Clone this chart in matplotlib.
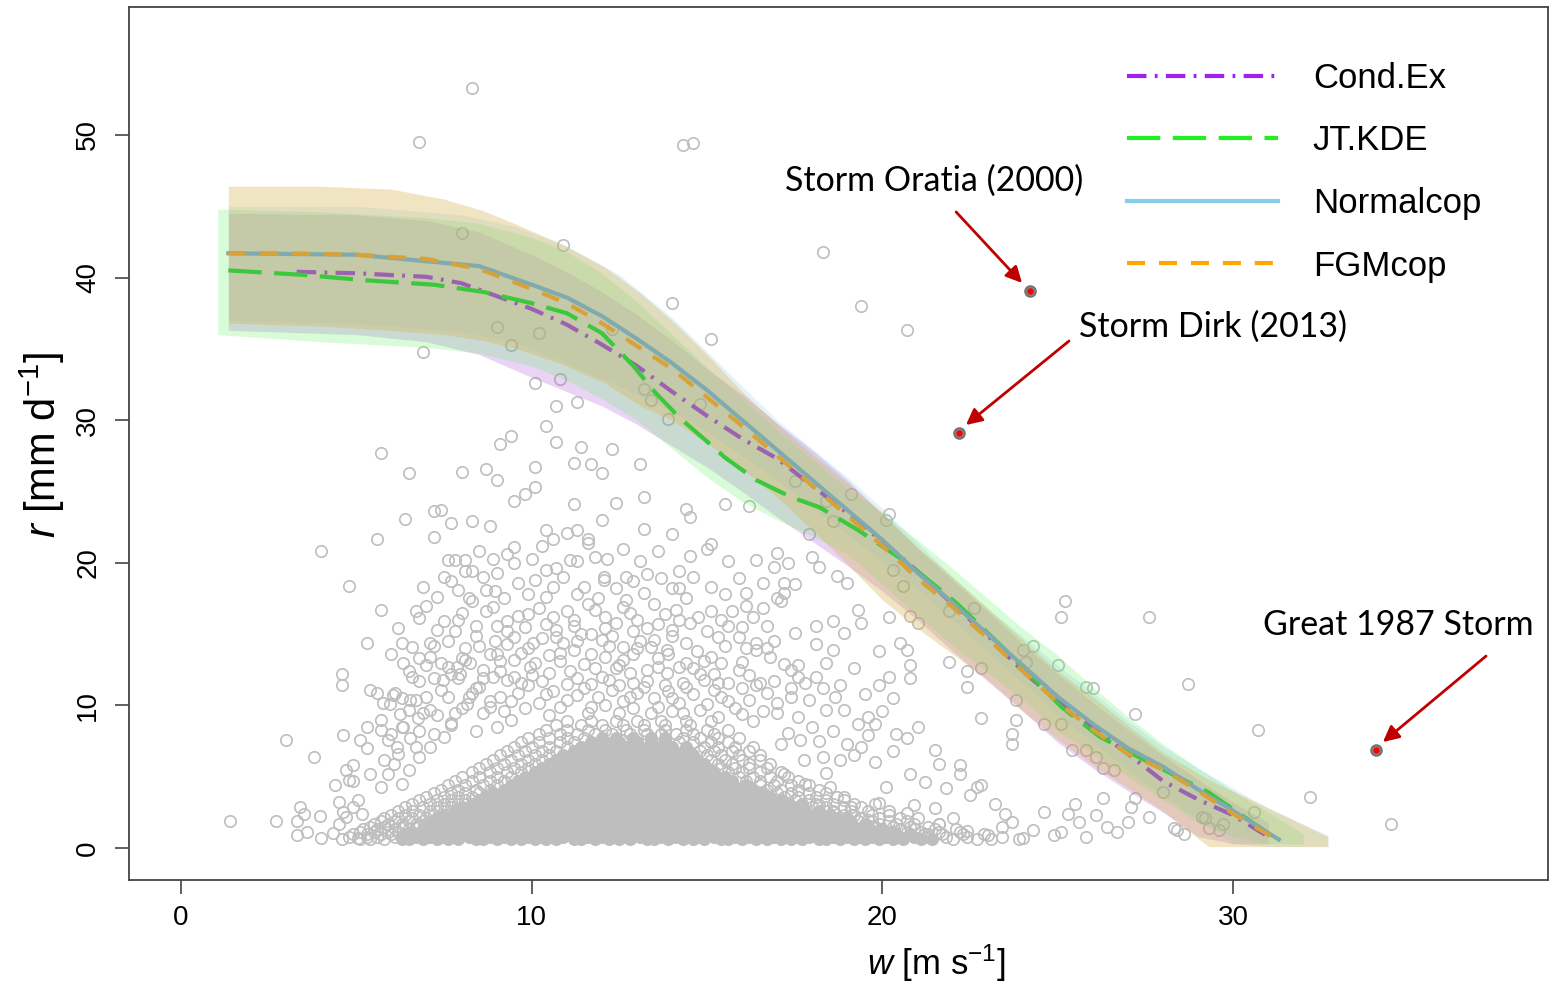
import matplotlib.pyplot as plt
from matplotlib.lines import Line2D
import numpy as np

plt.rcParams['font.family'] = 'Liberation Sans'
plt.rcParams['mathtext.fontset'] = 'custom'
plt.rcParams['mathtext.rm'] = 'Liberation Sans'
plt.rcParams['mathtext.it'] = 'Liberation Sans:italic'
plt.rcParams['lines.scale_dashes'] = False

obs_top = [(8.3, 53.3), (6.8, 49.5), (14.3, 49.3), (14.6, 49.4), (8.0, 43.1), (10.9, 42.3), (18.3, 41.8),
           (14.0, 38.2), (19.4, 38.0), (20.7, 36.3), (15.1, 35.7), (6.9, 34.8), (9.0, 36.5), (9.4, 35.3),
           (10.2, 36.1), (12.3, 36.4), (10.8, 32.9), (10.1, 32.6), (10.7, 31.0), (11.3, 31.3), (13.2, 32.2),
           (13.4, 31.4), (14.8, 31.1), (13.9, 30.1), (10.4, 29.6), (9.4, 28.9), (9.1, 28.3), (10.7, 28.5),
           (11.4, 28.1), (12.3, 28.0), (13.1, 26.9), (5.7, 27.7), (6.5, 26.3), (8.0, 26.4), (8.7, 26.6),
           (9.0, 25.8), (10.1, 26.7), (11.2, 27.0), (11.7, 26.9), (12.0, 26.3), (17.5, 25.7)]

obs_left = [(1.4, 1.9), (2.7, 1.9), (3.3, 1.9), (3.0, 7.6), (3.3, 0.9), (3.4, 2.9), (3.5, 2.4),
            (4.0, 20.8), (4.8, 18.4), (5.6, 21.7), (6.4, 23.1), (7.2, 21.8), (7.2, 23.6), (7.4, 23.7),
            (7.5, 19.0), (7.7, 18.7), (7.7, 22.8), (7.6, 20.2), (7.8, 20.2), (8.1, 20.2), (8.1, 19.4),
            (8.3, 19.4), (8.3, 22.9), (8.5, 20.8), (8.8, 22.6), (8.9, 20.3), (8.7, 18.1), (8.95, 18.0),
            (9.2, 17.5), (8.2, 17.5),
            (4.7, 5.5), (4.9, 4.7), (4.5, 1.7), (4.7, 2.2), (4.9, 2.9), (5.15, 2.4), (5.06, 0.7), (5.7, 4.3),
            (5.9, 5.2), (6.06, 5.9), (6.2, 6.6), (5.9, 7.6), (6.0, 8.0), (6.3, 8.5), (6.5, 9.7), (6.7, 10.4),
            (6.9, 9.45), (7.2, 8.0), (7.1, 7.1), (6.8, 6.4), (6.5, 5.5), (6.3, 4.5), (6.7, 7.1), (7.5, 7.8),
            (7.7, 8.75), (7.8, 9.45), (8.15, 10.1), (8.3, 10.85), (8.5, 11.3), (8.8, 9.9), (9.1, 10.6),
            (9.3, 11.8), (7.96, 12.2), (7.6, 12.7), (7.2, 11.9), (6.8, 11.7), (6.5, 12.4), (6.1, 10.85),
            (6.3, 10.5)]

obs_upper_mid = [(10.1, 25.3), (9.8, 24.8), (9.5, 24.3), (11.2, 24.1), (12.4, 24.2), (10.4, 22.3),
                 (10.6, 21.7), (11.0, 22.1), (11.3, 22.3), (11.6, 21.7), (11.6, 21.4), (10.0, 20.3),
                 (9.5, 21.1), (9.5, 20.0), (10.4, 19.5), (10.7, 19.6), (11.1, 20.2), (11.3, 20.1),
                 (11.8, 20.4), (12.15, 20.3), (10.1, 18.8), (10.6, 18.3), (11.5, 18.3), (12.05, 19.0),
                 (12.05, 18.8), (12.7, 19.0), (12.9, 18.7)]

obs_band_zone = [(15.5, 24.1), (16.2, 24.0), (14.4, 23.8), (14.5, 23.2), (13.2, 24.6), (13.2, 22.35),
                 (13.1, 20.1), (13.2, 17.9), (17.9, 22.0), (19.1, 24.8), (18.4, 24.3), (18.6, 22.9),
                 (20.2, 23.4), (20.1, 23.0), (22.6, 16.8), (24.3, 14.2), (24.0, 13.9), (20.3, 19.5),
                 (20.6, 18.4), (20.8, 16.3), (21.0, 15.8), (21.9, 16.6), (20.2, 16.2), (19.4, 15.8),
                 (19.3, 16.7), (19.0, 18.6), (18.7, 19.1), (18.0, 20.4), (18.2, 19.7), (17.5, 18.5),
                 (17.2, 18.6), (17.0, 20.7), (17.3, 20.0), (16.9, 19.7), (16.4, 20.2), (15.9, 18.96),
                 (15.6, 20.1), (15.1, 21.3), (14.5, 20.5), (14.2, 19.4), (14.0, 18.2), (15.1, 18.3),
                 (16.1, 17.9), (17.0, 17.5), (17.2, 17.9), (18.1, 15.6), (18.6, 15.95), (18.9, 15.1),
                 (18.1, 14.3), (18.6, 13.9), (19.9, 13.8), (20.5, 14.4), (20.7, 13.9), (14.2, 18.2),
                 (14.4, 17.5), (15.0, 21.0)]

obs_lower_mid = [(5.7, 16.7), (7.0, 17.0), (6.8, 16.1), (8.0, 16.5), (8.3, 17.3), (8.7, 16.6), (9.3, 15.9),
                 (9.6, 16.3), (9.9, 16.4), (10.4, 15.7), (11.0, 16.6), (11.2, 16.0), (11.8, 16.7),
                 (11.7, 15.0), (12.4, 15.8), (12.8, 16.5), (12.9, 15.2), (13.3, 15.4), (13.6, 15.7),
                 (14.1, 16.7), (14.2, 16.0), (14.75, 16.2), (15.1, 16.6), (15.7, 16.6), (16.1, 17.0),
                 (16.6, 16.8), (17.1, 17.3), (16.7, 15.6), (15.3, 14.8), (15.9, 14.8), (16.4, 14.4),
                 (17.5, 15.1), (5.3, 14.4), (6.3, 14.35), (7.1, 14.35), (7.8, 15.2), (8.4, 14.9),
                 (8.95, 14.5), (9.5, 14.8), (10.05, 14.35), (10.7, 14.8), (11.4, 15.0), (12.0, 14.6),
                 (12.6, 14.1), (13.4, 14.1), (13.85, 13.9), (14.7, 13.8), (15.4, 12.95), (16.0, 13.07),
                 (16.8, 13.4), (17.4, 12.5), (4.6, 12.2), (4.6, 11.4), (5.4, 11.1), (5.6, 10.9),
                 (5.96, 10.1), (6.25, 9.4), (6.34, 12.95), (6.8, 13.3), (7.2, 14.2), (7.48, 11.8),
                 (7.86, 12.7), (8.24, 12.95), (8.6, 12.5), (9.1, 13.1), (9.5, 12.0), (9.95, 12.7),
                 (10.3, 11.7), (10.8, 13.1), (11.3, 11.9), (11.8, 12.6), (12.2, 11.8), (12.8, 12.3),
                 (13.3, 11.7), (13.85, 12.25), (14.3, 11.55), (14.9, 11.8), (15.6, 11.55), (16.2, 12.1),
                 (16.9, 11.7), (17.6, 12.0), (3.8, 6.4), (4.63, 7.9), (5.1, 7.57), (5.3, 8.5), (5.7, 8.97),
                 (5.7, 8.3), (5.3, 7.0), (4.9, 5.8), (4.4, 4.4), (4.5, 3.25), (4.63, 2.55), (4.0, 0.7),
                 (4.34, 1.03), (3.6, 1.1), (3.96, 2.24), (5.06, 3.36), (4.8, 4.8), (5.39, 5.2), (5.8, 6.2),
                 (6.15, 7.1), (6.53, 7.7), (6.34, 8.5), (6.77, 9.1), (7.1, 9.7), (5.77, 10.14), (6.05, 10.7),
                 (6.53, 10.4), (7.6, 10.6), (8.0, 9.8), (8.4, 11.2), (8.8, 10.3), (9.2, 9.6), (9.6, 10.9),
                 (9.9, 11.4), (10.2, 10.2), (10.6, 11.0), (11.0, 10.4), (11.5, 11.2), (11.9, 10.6),
                 (12.3, 11.1), (12.6, 10.3), (13.0, 10.9), (13.5, 10.5), (13.9, 11.0), (14.2, 10.2),
                 (14.6, 10.8), (15.0, 10.1), (15.4, 10.6), (15.8, 9.8), (16.2, 10.4), (16.6, 9.6),
                 (7.9, 11.9), (8.9, 12.0), (10.0, 12.1), (11.1, 12.4), (12.5, 12.8), (13.6, 12.7),
                 (14.6, 12.6), (15.2, 12.2), (16.0, 11.2), (9.4, 9.0), (10.5, 9.3), (11.7, 9.9),
                 (12.9, 9.8), (14.0, 9.6), (15.3, 9.2), (16.3, 8.9), (17.0, 9.5), (17.4, 10.6),
                 (16.7, 10.9), (7.3, 9.3), (6.8, 8.2), (7.7, 8.6), (8.4, 8.2), (9.0, 8.5), (8.8, 13.6),
                 (9.7, 13.7), (10.5, 13.5), (11.2, 13.9), (12.1, 13.4), (12.9, 13.6), (13.6, 13.3),
                 (14.4, 13.0), (15.1, 13.4), (16.4, 13.9), (7.4, 13.0), (8.1, 14.0), (9.3, 14.3),
                 (10.9, 14.4), (12.3, 14.9), (13.1, 14.5), (14.0, 14.9), (15.6, 15.6), (16.9, 14.5),
                 (10.6, 16.2), (12.1, 16.2), (9.0, 15.6), (7.5, 15.9), (13.8, 16.4)]

obs_extra_mid = [(7.0, 10.6), (7.4, 11.1), (8.2, 10.6), (8.6, 9.5), (9.4, 10.3), (9.8, 9.8), (10.4, 10.8),
                 (10.8, 9.9), (11.3, 10.7), (11.7, 11.5), (12.1, 10.0), (12.5, 11.4), (12.8, 10.6),
                 (13.2, 11.3), (13.6, 9.9), (14.0, 10.5), (14.4, 11.3), (14.8, 9.7), (15.2, 11.1),
                 (15.6, 10.3), (16.0, 9.4), (16.4, 11.4), (17.0, 10.2), (17.8, 11.6),
                 (6.6, 12.0), (7.0, 12.8), (7.7, 12.2), (8.1, 13.2), (8.6, 11.9), (9.1, 12.4), (9.7, 11.6),
                 (10.1, 13.0), (10.5, 12.3), (11.0, 11.5), (11.5, 12.9), (12.0, 12.0), (12.4, 12.6),
                 (12.9, 11.6), (13.3, 12.5), (13.8, 11.4), (14.2, 12.7), (14.8, 12.2), (15.3, 11.6),
                 (15.9, 12.5), (16.5, 11.6), (17.2, 12.9),
                 (6.0, 13.6), (6.6, 14.1), (7.1, 13.4), (7.6, 14.5), (8.0, 13.3), (8.5, 14.2), (9.0, 13.6),
                 (9.5, 13.2), (9.9, 14.0), (10.3, 14.7), (10.8, 13.7), (11.3, 14.5), (11.7, 13.6),
                 (12.2, 14.2), (12.6, 13.2), (13.0, 14.0), (13.5, 14.6), (13.9, 13.6), (14.4, 14.4),
                 (14.9, 13.1), (15.5, 14.2), (16.1, 14.0), (16.7, 14.0),
                 (6.2, 15.4), (6.7, 16.6), (7.3, 15.3), (7.9, 16.0), (8.4, 15.6), (8.9, 16.9), (9.3, 15.2),
                 (9.8, 15.5), (10.2, 16.8), (10.7, 15.3), (11.2, 15.6), (11.6, 17.1), (12.1, 15.4),
                 (12.6, 16.9), (13.0, 16.0), (13.5, 17.1), (14.0, 15.3), (14.5, 15.8), (15.0, 15.2),
                 (15.4, 16.0), (16.0, 15.5), (16.3, 16.2),
                 (6.9, 18.3), (7.3, 17.6), (7.9, 18.1), (8.6, 19.0), (9.0, 19.3), (9.6, 18.6), (9.9, 17.8),
                 (10.4, 17.6), (10.9, 19.0), (11.3, 17.8), (11.9, 17.5), (12.4, 18.2), (12.7, 17.4),
                 (13.3, 19.2), (13.7, 18.9), (14.6, 19.0), (15.5, 17.8), (16.6, 18.6), (9.3, 20.6),
                 (10.3, 21.2), (12.6, 21.0), (13.6, 20.8), (14.0, 22.0), (12.0, 23.0),
                 (17.4, 11.2), (18.1, 12.0), (18.8, 11.4), (19.5, 10.8), (19.9, 11.4), (20.3, 10.5),
                 (20.0, 9.6), (19.6, 9.2), (18.2, 7.5), (18.6, 8.2), (19.2, 6.5), (19.8, 6.0), (20.3, 6.8),
                 (20.8, 5.2), (21.2, 4.6), (20.9, 3.0), (21.5, 2.8), (22.0, 2.1), (22.4, 1.2), (23.0, 0.9),
                 (23.5, 2.4), (24.0, 0.7), (24.9, 0.9), (25.8, 0.8), (26.7, 1.1), (17.8, 4.5), (18.2, 3.0),
                 (18.6, 2.5)]

obs_right = [(18.4, 12.95), (19.2, 12.6), (20.2, 12.0), (20.8, 12.8), (20.8, 11.9), (21.9, 13.07),
             (22.4, 12.4), (22.4, 11.3), (22.8, 12.6), (25.0, 12.8), (28.7, 11.5), (27.2, 9.4),
             (26.0, 11.2), (25.8, 11.3), (24.1, 13.07), (23.8, 10.4), (22.8, 9.1), (23.8, 9.0),
             (23.7, 8.0), (23.7, 7.3), (24.6, 8.7), (25.1, 8.7), (25.4, 6.87), (25.8, 6.87), (26.1, 6.4),
             (26.3, 5.6), (26.6, 5.5), (25.5, 3.1), (26.3, 3.5), (27.1, 2.9), (27.2, 3.5), (27.6, 2.2),
             (28.0, 3.95), (28.4, 1.26), (28.6, 1.0), (29.2, 2.1), (29.3, 1.4), (29.7, 1.7), (30.6, 2.55),
             (30.7, 8.27), (27.0, 1.85), (26.4, 1.5), (26.1, 2.3), (25.6, 1.85), (25.1, 1.15), (25.3, 2.4),
             (24.6, 2.55), (24.3, 1.26), (23.7, 1.85), (23.4, 1.5), (23.2, 3.1), (22.8, 4.4), (22.5, 3.7),
             (22.2, 5.8), (21.8, 4.2), (21.6, 1.7), (21.2, 1.0), (20.7, 2.43), (20.5, 1.26), (20.1, 4.3),
             (19.9, 3.13), (19.6, 1.97), (19.46, 1.0), (19.1, 2.9), (18.9, 3.6), (18.5, 4.3), (18.4, 5.24),
             (18.3, 6.4), (18.8, 6.2), (19.0, 7.3), (19.4, 7.1), (19.6, 7.9), (19.8, 8.7), (20.4, 8.0),
             (20.7, 7.7), (21.0, 8.5), (21.5, 6.87), (21.6, 5.9), (22.2, 5.2), (22.7, 4.3), (19.3, 8.7),
             (18.9, 9.7), (18.4, 9.7), (18.65, 10.6), (18.3, 11.2), (17.9, 10.4), (17.6, 9.2), (17.3, 8.04),
             (17.1, 7.3), (17.65, 7.57), (18.0, 8.5), (17.75, 6.2), (17.2, 5.2), (17.6, 12.8),
             (25.1, 16.2), (25.2, 17.3), (27.6, 16.2), (32.2, 3.6), (34.5, 1.7), (28.3, 1.4), (29.1, 2.2),
             (29.6, 1.26)]

# DENSE CORE OF THE CLOUD: ONE ROW OF w VALUES PER r LEVEL
core_r = [0.6, 0.95, 1.3, 1.7, 2.1, 2.6, 3.1, 3.6, 4.1, 4.7, 5.3, 5.9, 6.5, 7.1, 7.7, 8.3, 8.9, 9.5]
core_w = [
    [4.6, 5.1, 5.4, 5.8, 6.3, 6.5, 6.9, 7.3, 7.6, 7.9, 8.4, 8.6, 9.0, 9.4, 9.7, 10.1, 10.4, 10.7, 11.2, 11.4,
     11.8, 12.2, 12.5, 12.8, 13.3, 13.5, 13.9, 14.3, 14.6, 14.9, 15.4, 15.6, 16.0, 16.4, 16.7, 17.1, 17.4,
     17.7, 18.2, 18.4, 18.8, 19.2, 19.5, 19.9, 20.3, 20.6, 21.1, 21.4, 22.0, 22.7, 23.1, 23.9],
    [4.9, 5.3, 5.7, 6.0, 6.4, 6.8, 7.1, 7.4, 7.8, 8.1, 8.5, 8.8, 9.2, 9.5, 9.9, 10.2, 10.6, 10.9, 11.3, 11.6,
     12.0, 12.3, 12.7, 13.0, 13.4, 13.7, 14.1, 14.4, 14.8, 15.1, 15.5, 15.8, 16.2, 16.5, 16.9, 17.2, 17.6,
     17.9, 18.3, 18.6, 19.0, 19.3, 19.7, 20.1, 20.4, 20.8, 21.3, 21.7, 22.3, 22.9],
    [5.2, 5.6, 6.1, 6.5, 6.9, 7.2, 7.6, 7.9, 8.3, 8.7, 9.0, 9.4, 9.7, 10.1, 10.5, 10.8, 11.2, 11.5, 11.9, 12.2,
     12.6, 12.9, 13.3, 13.6, 14.0, 14.3, 14.7, 15.0, 15.4, 15.7, 16.1, 16.4, 16.8, 17.1, 17.5, 17.8, 18.2,
     18.5, 18.9, 19.3, 19.6, 20.0, 20.5, 20.9, 21.5, 22.1],
    [5.5, 5.9, 6.3, 6.7, 7.0, 7.4, 7.8, 8.1, 8.5, 8.8, 9.2, 9.6, 9.9, 10.3, 10.6, 11.0, 11.4, 11.7, 12.1, 12.4,
     12.8, 13.1, 13.5, 13.8, 14.2, 14.5, 14.9, 15.2, 15.6, 15.9, 16.3, 16.6, 17.0, 17.3, 17.7, 18.0, 18.4,
     18.8, 19.1, 19.5, 19.9, 20.4, 20.9, 21.6],
    [5.8, 6.2, 6.6, 7.0, 7.3, 7.7, 8.0, 8.4, 8.7, 9.1, 9.5, 9.8, 10.2, 10.5, 10.9, 11.2, 11.6, 11.9, 12.3, 12.6,
     13.0, 13.4, 13.7, 14.1, 14.4, 14.8, 15.1, 15.5, 15.8, 16.2, 16.5, 16.9, 17.2, 17.6, 17.9, 18.3, 18.7,
     19.0, 19.4, 19.9, 20.5, 21.0],
    [6.2, 6.6, 7.1, 7.5, 7.8, 8.2, 8.6, 8.9, 9.3, 9.6, 10.0, 10.3, 10.7, 11.0, 11.4, 11.8, 12.1, 12.5, 12.8,
     13.2, 13.5, 13.9, 14.2, 14.6, 14.9, 15.3, 15.7, 16.0, 16.4, 16.7, 17.1, 17.4, 17.8, 18.2, 18.6, 19.1,
     19.6, 20.2],
    [6.6, 7.1, 7.5, 7.9, 8.3, 8.7, 9.0, 9.4, 9.7, 10.1, 10.5, 10.8, 11.2, 11.5, 11.9, 12.2, 12.6, 12.9, 13.3,
     13.7, 14.0, 14.4, 14.7, 15.1, 15.4, 15.8, 16.1, 16.5, 16.9, 17.3, 17.7, 18.1, 18.6, 19.2, 19.8],
    [7.0, 7.5, 7.9, 8.3, 8.7, 9.1, 9.5, 9.8, 10.2, 10.6, 10.9, 11.3, 11.7, 12.0, 12.4, 12.7, 13.1, 13.5, 13.8,
     14.2, 14.5, 14.9, 15.3, 15.6, 16.0, 16.4, 16.8, 17.2, 17.6, 18.1, 18.7],
    [7.4, 7.9, 8.4, 8.8, 9.2, 9.6, 10.0, 10.4, 10.7, 11.1, 11.5, 11.8, 12.2, 12.6, 12.9, 13.3, 13.7, 14.0,
     14.4, 14.8, 15.1, 15.5, 15.9, 16.3, 16.7, 17.1, 17.6, 18.2],
    [7.8, 8.3, 8.8, 9.2, 9.6, 10.0, 10.4, 10.8, 11.2, 11.5, 11.9, 12.3, 12.7, 13.0, 13.4, 13.8, 14.2, 14.5,
     14.9, 15.3, 15.7, 16.1, 16.5, 17.0, 17.6],
    [8.3, 8.8, 9.3, 9.7, 10.1, 10.5, 10.9, 11.3, 11.7, 12.1, 12.5, 12.8, 13.2, 13.6, 14.0, 14.4, 14.8, 15.2,
     15.6, 16.0, 16.5, 17.1],
    [8.7, 9.2, 9.7, 10.1, 10.5, 10.9, 11.3, 11.7, 12.1, 12.5, 12.9, 13.3, 13.7, 14.1, 14.5, 14.9, 15.3, 15.7,
     16.2, 16.8],
    [9.1, 9.6, 10.1, 10.5, 10.9, 11.4, 11.8, 12.2, 12.6, 13.0, 13.4, 13.8, 14.2, 14.6, 15.0, 15.4, 15.9, 16.5],
    [9.5, 10.0, 10.5, 11.0, 11.4, 11.9, 12.3, 12.7, 13.1, 13.6, 14.0, 14.4, 14.9, 15.3, 15.8, 16.3],
    [9.9, 10.5, 11.0, 11.5, 12.0, 12.4, 12.9, 13.4, 13.8, 14.3, 14.8, 15.3, 15.9],
    [10.4, 11.0, 11.6, 12.1, 12.7, 13.2, 13.8, 14.4, 15.0, 15.6],
    [11.0, 11.7, 12.4, 13.0, 13.7, 14.4, 15.1],
    [11.6, 12.5, 13.4, 14.3],
]
# SECOND, STAGGERED SET OF CORE ROWS
core_r_b = [0.8, 1.1, 1.5, 1.9, 2.35, 2.85, 3.35, 3.85, 4.4, 5.0, 5.6, 6.2, 6.8, 7.4, 8.0, 8.6]
core_w_b = [
    [4.8, 5.3, 5.6, 6.1, 6.4, 6.7, 7.1, 7.5, 7.8, 8.2, 8.5, 8.8, 9.2, 9.6, 9.9, 10.3, 10.6, 10.9, 11.3, 11.6,
     12.0, 12.4, 12.7, 13.1, 13.4, 13.7, 14.1, 14.5, 14.8, 15.2, 15.5, 15.8, 16.2, 16.6, 16.9, 17.3, 17.6,
     17.9, 18.3, 18.6, 19.0, 19.4, 19.7, 20.1, 20.5, 20.9, 21.3, 21.8, 22.4, 23.4],
    [5.1, 5.5, 5.9, 6.2, 6.6, 7.0, 7.3, 7.6, 8.0, 8.3, 8.7, 9.0, 9.4, 9.7, 10.1, 10.4, 10.8, 11.1, 11.5, 11.8,
     12.2, 12.5, 12.9, 13.2, 13.6, 13.9, 14.3, 14.6, 15.0, 15.3, 15.7, 16.0, 16.4, 16.7, 17.1, 17.4, 17.8,
     18.1, 18.5, 18.8, 19.2, 19.5, 19.9, 20.3, 20.7, 21.1, 21.6, 22.2],
    [5.4, 5.8, 6.3, 6.7, 7.1, 7.4, 7.8, 8.1, 8.5, 8.9, 9.2, 9.6, 9.9, 10.3, 10.7, 11.0, 11.4, 11.7, 12.1, 12.4,
     12.8, 13.1, 13.5, 13.8, 14.2, 14.5, 14.9, 15.2, 15.6, 15.9, 16.3, 16.6, 17.0, 17.3, 17.7, 18.0, 18.4,
     18.7, 19.1, 19.5, 19.8, 20.3, 20.8, 21.3],
    [5.7, 6.1, 6.5, 6.9, 7.2, 7.6, 8.0, 8.3, 8.7, 9.0, 9.4, 9.8, 10.1, 10.5, 10.8, 11.2, 11.6, 11.9, 12.3, 12.6,
     13.0, 13.3, 13.7, 14.0, 14.4, 14.7, 15.1, 15.4, 15.8, 16.1, 16.5, 16.8, 17.2, 17.5, 17.9, 18.2, 18.6,
     19.0, 19.3, 19.7, 20.2, 20.7],
    [6.0, 6.4, 6.8, 7.2, 7.5, 7.9, 8.2, 8.6, 8.9, 9.3, 9.7, 10.0, 10.4, 10.7, 11.1, 11.4, 11.8, 12.1, 12.5, 12.8,
     13.2, 13.6, 13.9, 14.3, 14.6, 15.0, 15.3, 15.7, 16.0, 16.4, 16.7, 17.1, 17.4, 17.8, 18.1, 18.5, 18.9,
     19.2, 19.7, 20.2],
    [6.4, 6.9, 7.3, 7.7, 8.0, 8.4, 8.8, 9.1, 9.5, 9.8, 10.2, 10.5, 10.9, 11.2, 11.6, 12.0, 12.3, 12.7, 13.0,
     13.4, 13.7, 14.1, 14.4, 14.8, 15.1, 15.5, 15.9, 16.2, 16.6, 16.9, 17.3, 17.6, 18.0, 18.4, 18.9, 19.4],
    [6.8, 7.3, 7.7, 8.1, 8.5, 8.9, 9.2, 9.6, 9.9, 10.3, 10.7, 11.0, 11.4, 11.7, 12.1, 12.4, 12.8, 13.1, 13.5,
     13.9, 14.2, 14.6, 14.9, 15.3, 15.6, 16.0, 16.3, 16.7, 17.1, 17.5, 17.9, 18.4, 18.9],
    [7.2, 7.7, 8.1, 8.5, 8.9, 9.3, 9.7, 10.0, 10.4, 10.8, 11.1, 11.5, 11.9, 12.2, 12.6, 12.9, 13.3, 13.7, 14.0,
     14.4, 14.7, 15.1, 15.5, 15.8, 16.2, 16.6, 17.0, 17.4, 17.9, 18.4],
    [7.6, 8.1, 8.6, 9.0, 9.4, 9.8, 10.2, 10.6, 10.9, 11.3, 11.7, 12.0, 12.4, 12.8, 13.1, 13.5, 13.9, 14.2,
     14.6, 15.0, 15.3, 15.7, 16.1, 16.5, 16.9, 17.4, 17.9],
    [8.0, 8.5, 9.0, 9.4, 9.8, 10.2, 10.6, 11.0, 11.4, 11.7, 12.1, 12.5, 12.9, 13.2, 13.6, 14.0, 14.4, 14.7,
     15.1, 15.5, 15.9, 16.3, 16.8, 17.3],
    [8.5, 9.0, 9.5, 9.9, 10.3, 10.7, 11.1, 11.5, 11.9, 12.3, 12.7, 13.0, 13.4, 13.8, 14.2, 14.6, 15.0, 15.4,
     15.8, 16.2, 16.7],
    [8.9, 9.4, 9.9, 10.3, 10.7, 11.1, 11.5, 11.9, 12.3, 12.7, 13.1, 13.5, 13.9, 14.3, 14.7, 15.1, 15.5, 16.0,
     16.5],
    [9.3, 9.8, 10.3, 10.7, 11.2, 11.6, 12.0, 12.4, 12.8, 13.2, 13.6, 14.0, 14.4, 14.8, 15.2, 15.7, 16.2],
    [9.7, 10.2, 10.8, 11.2, 11.7, 12.1, 12.5, 13.0, 13.4, 13.8, 14.2, 14.6, 15.1, 15.6],
    [10.2, 10.8, 11.3, 11.8, 12.3, 12.8, 13.3, 13.7, 14.1, 14.6, 15.2],
    [10.7, 11.4, 12.0, 12.6, 13.2, 13.8, 14.5],
]

# STORMS
storm_w = [24.21, 22.18, 34.07]
storm_r = [39.06, 29.1, 6.87]
storm_labels = ['Storm Oratia (2000)', 'Storm Dirk (2013)', 'Great 1987 Storm']

# MODEL CURVES
ce_w = [3.3, 5, 7, 8, 9, 10, 11, 12, 13, 14, 15, 16, 17, 18, 19, 20, 21, 22, 23, 24, 25, 26, 27, 28, 29, 30, 31.0]
ce_r = [40.4, 40.3, 40.05, 39.6, 38.7, 37.8, 36.7, 35.3, 33.8, 32.0, 30.3, 28.7, 27.3, 25.4, 23.5, 21.5, 19.4,
        17.1, 14.9, 12.4, 10.3, 8.4, 6.6, 4.7, 3.4, 2.3, 0.8]
jt_w = [1.35, 3.4, 5.3, 7.2, 8.6, 10, 11, 12, 12.9, 13.5, 14.2, 15, 15.5, 16.4, 17.4, 18.2, 19.3, 20.7, 22.1,
        23.5, 25.1, 26.2, 27.6, 29.3, 31.25]
jt_r = [40.5, 40.2, 39.8, 39.5, 39.0, 38.2, 37.5, 36.1, 33.8, 32.0, 30.2, 28.5, 27.4, 25.8, 24.6, 23.9, 22.3,
        20.0, 17.2, 13.9, 9.9, 7.8, 6.0, 3.9, 0.6]
nc_w = [1.35, 5, 8.5, 10, 11, 12, 13, 14, 15, 16, 17, 18, 19, 20, 21, 22, 23, 24, 25, 26, 27, 28, 29, 30, 31.3]
nc_r = [41.7, 41.6, 40.8, 39.5, 38.6, 37.3, 35.7, 34.0, 32.1, 30.0, 27.9, 25.8, 23.7, 21.6, 19.3, 17.2, 15.0,
        12.8, 10.6, 8.7, 7.0, 5.7, 4.1, 2.6, 0.6]
fg_w = [1.35, 3, 5, 7, 8.5, 10, 11, 12, 13, 14, 15, 16, 17, 18, 19, 20, 21, 22, 23, 24, 25, 26, 27, 28, 29, 30, 31.3]
fg_r = [41.7, 41.7, 41.6, 41.3, 40.6, 39.2, 38.2, 36.8, 35.2, 33.6, 31.6, 29.6, 27.5, 25.4, 23.3, 21.2, 18.9,
        16.9, 14.7, 12.4, 10.2, 8.3, 6.6, 5.5, 4.0, 2.4, 0.5]

# UNCERTAINTY BANDS
ce_band_w = [1.35, 5, 7, 8.5, 10, 11, 12, 13, 14, 15, 16, 17, 18, 19, 20, 21, 22, 23, 24, 25, 26, 27, 28, 29, 30, 31]
ce_lo = [36.3, 36.0, 35.5, 34.6, 33.0, 32.0, 31.0, 29.7, 28.2, 26.7, 25.0, 23.2, 21.5, 19.8, 18.0, 16.0, 13.8,
         11.7, 9.6, 7.4, 5.6, 4.0, 2.5, 0.8, 0.3, 0.3]
ce_hi = [44.5, 44.4, 44.0, 43.2, 41.6, 40.4, 39.0, 37.4, 35.6, 33.6, 31.8, 29.8, 27.9, 25.8, 23.4, 21.0, 18.8,
         16.6, 14.3, 12.2, 10.2, 8.3, 6.5, 4.8, 3.2, 1.8]
jt_band_w = [1.05, 4, 7, 8.5, 10, 11, 12, 13, 14, 15, 16, 17, 18, 19, 20, 21, 22, 23, 24, 25, 26, 27, 28, 29,
             30, 31, 32]
jt_lo = [36.0, 35.5, 35.1, 34.7, 33.8, 32.8, 31.5, 30.0, 28.0, 26.0, 24.3, 23.0, 21.9, 20.6, 18.5, 16.3, 14.2,
         12.3, 10.4, 8.2, 6.6, 5.0, 3.4, 1.8, 0.8, 0.3, 0.3]
jt_hi = [44.8, 44.6, 44.2, 43.8, 42.8, 41.8, 40.3, 38.3, 36.0, 33.7, 31.5, 29.3, 27.2, 25.2, 23.5, 21.6, 19.6,
         17.5, 15.4, 13.5, 11.3, 9.2, 7.3, 5.6, 4.0, 2.5, 1.0]
nc_band_w = [1.35, 5, 8, 9.5, 11, 12.5, 14, 15, 16, 17, 18, 19, 20, 21, 22, 23, 24, 25, 26, 27, 28, 29, 30, 31, 32.7]
nc_lo = [37.0, 36.8, 36.2, 35.5, 34.0, 32.4, 30.6, 29.2, 27.5, 25.8, 23.9, 22.0, 20.1, 18.2, 16.0, 13.8, 11.6,
         9.4, 7.4, 5.5, 3.7, 2.0, 0.3, 0.1, 0.1]
nc_hi = [45.0, 45.0, 44.4, 43.6, 42.2, 40.2, 37.2, 34.8, 32.4, 30.0, 28.0, 26.0, 23.8, 21.4, 19.0, 16.8, 14.8,
         12.8, 10.9, 8.9, 7.1, 5.6, 4.2, 2.8, 0.9]
fg_band_w = [1.35, 4, 6, 7.5, 8.6, 9.6, 10.9, 12.1, 13.1, 14, 15, 16, 17, 18, 19, 20, 21, 22, 23, 24, 25, 26,
             27, 28, 29.3, 30.5, 32.7]
fg_lo = [36.8, 36.6, 36.3, 36.0, 35.6, 35.0, 33.9, 32.6, 31.0, 30.0, 28.4, 26.6, 24.6, 22.3, 19.9, 17.4, 15.4,
         13.6, 11.8, 9.6, 7.6, 5.8, 4.2, 2.6, 0.1, 0.1, 0.1]
fg_hi = [46.4, 46.4, 46.2, 45.5, 44.7, 43.7, 42.3, 40.7, 38.9, 37.0, 34.6, 32.0, 29.7, 27.6, 25.6, 23.5, 21.1,
         19.0, 16.8, 14.6, 12.4, 10.6, 8.6, 6.7, 4.8, 3.4, 0.8]

model_names = ['Cond.Ex', 'JT.KDE', 'Normalcop', 'FGMcop']
legend_colors = ['#A020F0', '#22EE22', '#87CEEB', '#FFA500']
line_colors = ['#9A62B0', '#3CC83C', '#7FAAB0', '#D8A23A']
band_colors = ['#AC55DE', '#50F050', '#8AC6E8', '#D7B450']
band_alpha = [0.25, 0.22, 0.22, 0.35]
dash_styles = [(0, (14, 6, 2, 6)), (0, (24, 9)), '-', (0, (13, 10))]
dot_grey = '#BEBEBE'


fig = plt.figure(figsize=(15.57, 9.83), dpi=100)
ax = fig.add_axes([0.0829, 0.1048, 0.9114, 0.8881])

# SCATTER OF OBSERVATIONS
pts = np.array(obs_top + obs_left + obs_upper_mid + obs_band_zone + obs_lower_mid + obs_extra_mid + obs_right)
ax.plot(pts[:, 0], pts[:, 1], 'o', ms=8.2, mfc='none', mec=dot_grey, mew=1.2, zorder=1)
# in the packed core the rings overlap into a solid mass, so the inner points are drawn filled
for r, ws in zip(core_r + core_r_b, core_w + core_w_b):
    if r <= 7.7:
        inner = ws[4:-4]
        ends = ws[:4] + ws[-4:]
        ax.plot(inner, [r] * len(inner), 'o', ms=8.2, mfc=dot_grey, mec=dot_grey, mew=1.2, zorder=1)
        ax.plot(ends, [r] * len(ends), 'o', ms=8.2, mfc='none', mec=dot_grey, mew=1.2, zorder=1)
    else:
        ax.plot(ws, [r] * len(ws), 'o', ms=8.2, mfc='none', mec=dot_grey, mew=1.2, zorder=1)

# BANDS, THEN CURVES ON TOP
curves = [(ce_w, ce_r), (jt_w, jt_r), (nc_w, nc_r), (fg_w, fg_r)]
bands = [(ce_band_w, ce_lo, ce_hi), (jt_band_w, jt_lo, jt_hi), (nc_band_w, nc_lo, nc_hi), (fg_band_w, fg_lo, fg_hi)]
for i in range(4):
    bw, blo, bhi = bands[i]
    ax.fill_between(bw, blo, bhi, color=band_colors[i], alpha=band_alpha[i], lw=0, zorder=2 + i)
for i in range(4):
    cw, cr = curves[i]
    ax.plot(cw, cr, color=line_colors[i], lw=3, linestyle=dash_styles[i], zorder=8 + i)

# STORMS
ax.plot(storm_w, storm_r, 'o', ms=8, mfc='#808080', mec='#6E6E6E', mew=1, zorder=20)
ax.plot(storm_w, storm_r, 'o', ms=3.5, color='red', zorder=21)

arrow_from = [(22.10, 44.60), (25.32, 35.55), (37.21, 13.46)]
arrow_to = [(23.98, 39.62), (22.38, 29.66), (34.27, 7.43)]
text_pos = [(17.22, 46.77), (25.61, 36.54), (30.85, 15.64)]
for i in range(3):
    ax.annotate('', xy=arrow_to[i], xytext=arrow_from[i],
                arrowprops=dict(arrowstyle='-|>', color='#C00000', lw=2, mutation_scale=24,
                                shrinkA=0, shrinkB=0), zorder=22)
    ax.text(text_pos[i][0], text_pos[i][1], storm_labels[i], fontsize=24.5, family='Lato',
            ha='left', va='center', zorder=22)

# LEGEND
handles = [Line2D([], [], color=legend_colors[i], lw=3, linestyle=dash_styles[i]) for i in range(4)]
ax.legend(handles, model_names, loc='upper left', bbox_to_anchor=(0.7033, 0.937), frameon=False,
          fontsize=25, handlelength=4.35, handletextpad=1.0, labelspacing=0.85, borderpad=0,
          borderaxespad=0)

# AXES
ax.set_xlim(-1.48, 38.98)
ax.set_ylim(-2.24, 58.97)
ax.set_xticks([0, 10, 20, 30])
ax.set_yticks([0, 10, 20, 30, 40, 50])
ax.tick_params(length=10, width=1.2, labelsize=20, pad=8, color='#444444')
ax.tick_params(axis='y', labelrotation=90, pad=10)
for lab in ax.get_yticklabels():
    lab.set_va('center')
for sp in ax.spines.values():
    sp.set_color('#444444')
    sp.set_linewidth(1.3)

fig.text(42 / 1557, 1 - 445 / 983, r'$r$ [mm d$^{-1}$]', rotation=90, fontsize=30, ha='center', va='center')
fig.text(936 / 1557, 1 - 963 / 983, r'$w$ [m s$^{-1}$]', fontsize=25, ha='center', va='center')

fig.savefig('out.png', dpi=100)
